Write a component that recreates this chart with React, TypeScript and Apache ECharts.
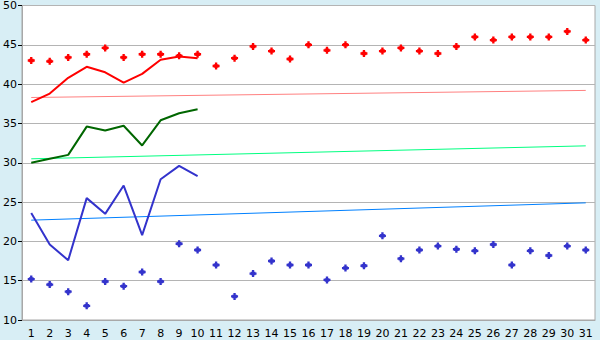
import React, { useEffect, useRef } from "react";
import * as echarts from "echarts";

const days = ["1","2","3","4","5","6","7","8","9","10","11","12","13","14","15","16","17","18","19","20","21","22","23","24","25","26","27","28","29","30","31"];
const redPoints = [43.0,42.9,43.4,43.8,44.6,43.4,43.8,43.8,43.6,43.8,42.3,43.3,44.8,44.2,43.2,45.0,44.3,45.0,43.9,44.2,44.6,44.2,43.9,44.8,46.0,45.6,46.0,46.0,46.0,46.7,45.6];
const redLine = [37.7,38.8,40.8,42.2,41.5,40.2,41.3,43.1,43.5,43.3];
const greenLine = [30.0,30.5,31.0,34.6,34.1,34.7,32.2,35.4,36.3,36.8];
const blueLine = [23.6,19.6,17.6,25.5,23.5,27.1,20.8,27.9,29.6,28.3];
const bluePoints = [15.2,14.5,13.6,11.8,14.9,14.3,16.1,14.9,19.7,18.9,17.0,13.0,15.9,17.5,17.0,17.0,15.1,16.6,16.9,20.7,17.8,18.9,19.4,19.0,18.8,19.6,17.0,18.8,18.2,19.4,18.9];
const redTrend = [38.3, 39.2];
const greenTrend = [30.5, 32.15];
const blueTrend = [22.7, 24.9];

const yMin = 10;
const yMax = 50;
const yStep = 5;

const plusSymbol = "path://M2,0H4V1.5H5V2H6V4H5V4.5H4V6H2V4.5H1V4H0V2H1V1.5H2Z";

function trendData(ends: number[]) {
  return days.map((_, i) => (i === 0 ? ends[0] : i === days.length - 1 ? ends[1] : null));
}

export default function App() {
  const ref = useRef<HTMLDivElement>(null);
  useEffect(() => {
    document.body.style.margin = "0";
    const chart = echarts.init(ref.current!, null, { renderer: "svg" });
    const font = "DejaVu Sans";
    chart.setOption({
      animation: false,
      backgroundColor: "#d8eef5",
      grid: {
        left: 20, right: 5, top: 5, bottom: 20,
        show: true, backgroundColor: "#ffffff", borderColor: "#a8a8a8", borderWidth: 1,
      },
      xAxis: {
        type: "category",
        data: days,
        boundaryGap: true,
        axisLine: { lineStyle: { color: "#a8a8a8", width: 1 } },
        axisTick: { alignWithLabel: true, length: 5, lineStyle: { color: "#000000" } },
        axisLabel: { color: "#000", fontFamily: font, fontSize: 11, margin: 8, interval: 0 },
        splitLine: { show: false },
      },
      yAxis: {
        type: "value",
        min: yMin, max: yMax, interval: yStep,
        axisLine: { show: true, lineStyle: { color: "#a8a8a8", width: 1 } },
        axisTick: { show: true, length: 4, lineStyle: { color: "#000000" } },
        axisLabel: { color: "#000", fontFamily: font, fontSize: 11, margin: 5 },
        splitLine: { lineStyle: { color: "#b4b4b4", width: 1 } },
      },
      series: [
        { type: "line", data: trendData(redTrend), connectNulls: true, showSymbol: false, lineStyle: { color: "#ff8080", width: 1 }, z: 1 },
        { type: "line", data: trendData(greenTrend), connectNulls: true, showSymbol: false, lineStyle: { color: "#00ff80", width: 1 }, z: 1 },
        { type: "line", data: trendData(blueTrend), connectNulls: true, showSymbol: false, lineStyle: { color: "#0080ff", width: 1 }, z: 1 },
        { type: "line", data: redLine, showSymbol: false, lineStyle: { color: "#ff0000", width: 2 }, z: 2 },
        { type: "line", data: greenLine, showSymbol: false, lineStyle: { color: "#006600", width: 2 }, z: 2 },
        { type: "line", data: blueLine, showSymbol: false, lineStyle: { color: "#3333cc", width: 2 }, z: 2 },
        { type: "scatter", data: redPoints, symbol: plusSymbol, symbolSize: 7, itemStyle: { color: "#ff0000", opacity: 1 }, z: 3 },
        { type: "scatter", data: bluePoints, symbol: plusSymbol, symbolSize: 7, itemStyle: { color: "#3333cc", opacity: 1 }, z: 3 },
      ],
    });
    return () => chart.dispose();
  }, []);
  return <div ref={ref} style={{ width: 600, height: 340 }} />;
}
